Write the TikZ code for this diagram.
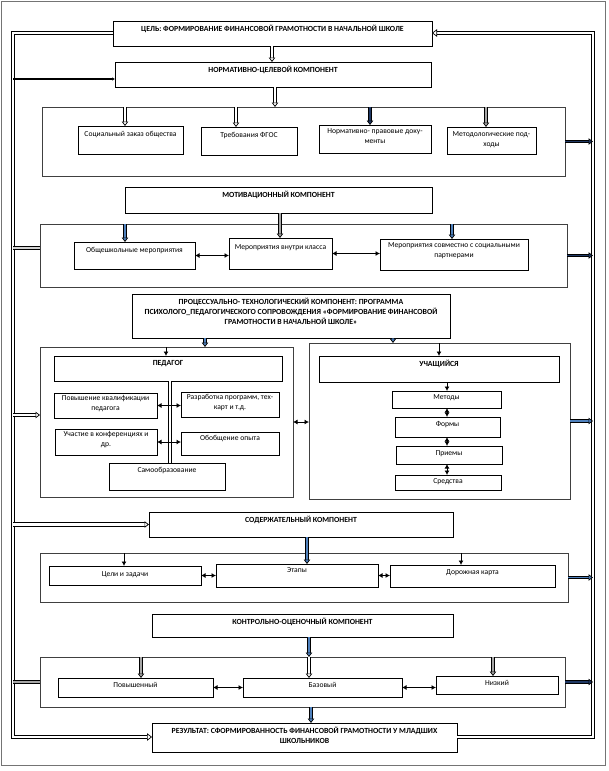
\documentclass[tikz,border=0pt]{standalone}
\usepackage{fontspec}
\setmainfont{Carlito}
\usetikzlibrary{arrows.meta}
\definecolor{bluef}{HTML}{4F81BD}
\definecolor{navy}{HTML}{1F3864}
\definecolor{grayf}{HTML}{A6A6A6}
\definecolor{contc}{HTML}{404040}
\tikzset{
  box/.style={draw=black, line width=0.8pt, inner sep=0pt, outer sep=0pt, anchor=north west},
  cont/.style={draw=contc, line width=0.9pt, inner sep=0pt, outer sep=0pt, anchor=north west},
  ttl/.style={font=\fontsize{7.8}{10}\selectfont\bfseries, align=center, anchor=north, inner sep=0pt},
  txt/.style={font=\fontsize{7.6}{10}\selectfont, align=center, anchor=north, inner sep=0pt},
  blk/.style={draw=black, line width=0.8pt, double=#1, double distance=1.6pt,
     -{Triangle[length=4.5pt,width=6.5pt,fill=#1,line width=0.7pt]}},
  blk/.default=white,
  dbl/.style={draw=black, line width=0.8pt, double=#1, double distance=1.6pt},
  dbl/.default=white,
  loopl/.style={draw=black, line width=0.8pt, double=white, double distance=2.4pt},
  looparr/.style={-{Triangle[length=5pt,width=7.5pt,fill=white,line width=0.7pt]}},
  sarr/.style={draw=black, line width=0.9pt, -{Latex[length=4.5pt,width=5pt]}},
  darr/.style={draw=black, line width=1pt, {Latex[length=4.5pt,width=5pt]}-{Latex[length=4.5pt,width=5pt]}},
}
\newcommand\mkbox[6][box]{\node[#1, minimum width={#5-#3}, minimum height={#6-#4}] (#2) at (#3,#4) {};}
\begin{document}
\begin{tikzpicture}[x=1pt,y=-1pt]
\useasboundingbox (0,0) rectangle (608,771);
\draw[grayf!70!black, line width=1pt] (1.5,1.5) rectangle (605.5,765);

% boxes
\mkbox{goal}{113}{21}{432}{46}
\node[ttl] (goalt) at ([yshift=-4pt]goal.north) {ЦЕЛЬ: ФОРМИРОВАНИЕ ФИНАНСОВОЙ ГРАМОТНОСТИ В НАЧАЛЬНОЙ ШКОЛЕ};
\mkbox{norm}{115}{62}{431}{87}
\node[ttl] (normt) at ([yshift=-4pt]norm.north) {НОРМАТИВНО-ЦЕЛЕВОЙ КОМПОНЕНТ};
\mkbox[cont]{contA}{42}{107}{565}{176}
\mkbox{A1}{78}{126}{183}{154}
\node[txt] (A1t) at ([yshift=-5pt]A1.north) {Социальный заказ общества};
\mkbox{A2}{201}{127}{297}{155}
\node[txt] (A2t) at ([yshift=-5pt]A2.north) {Требования ФГОС};
\mkbox{A3}{319}{125}{431}{153}
\node[txt] (A3t) at ([yshift=-3pt]A3.north) {Нормативно- правовые доку-\\менты};
\mkbox{A4}{447}{127}{536}{154}
\node[txt] (A4t) at ([yshift=-4pt]A4.north) {Методологические под-\\ходы};
\mkbox{motiv}{125}{187}{432}{213}
\node[ttl] (motivt) at ([yshift=-4pt]motiv.north) {МОТИВАЦИОННЫЙ КОМПОНЕНТ};
\mkbox[cont]{contB}{40}{224}{567}{287}
\mkbox{B1}{74}{242}{195}{269}
\node[txt] (B1t) at ([yshift=-5pt]B1.north) {Общешкольные мероприятия};
\mkbox{B2}{229}{238}{332}{269}
\node[txt] (B2t) at ([yshift=-6pt]B2.north) {Мероприятия внутри класса};
\mkbox{B3}{380}{239}{528}{270}
\node[txt] (B3t) at ([yshift=-3pt]B3.north) {Мероприятия совместно с социальными\\партнерами};
\mkbox{proc}{132}{294}{450}{338}
\node[ttl] (proct) at ([yshift=-4pt]proc.north) {ПРОЦЕССУАЛЬНО- ТЕХНОЛОГИЧЕСКИЙ КОМПОНЕНТ: ПРОГРАММА\\ПСИХОЛОГО\_ПЕДАГОГИЧЕСКОГО СОПРОВОЖДЕНИЯ «ФОРМИРОВАНИЕ ФИНАНСОВОЙ\\ГРАМОТНОСТИ В НАЧАЛЬНОЙ ШКОЛЕ»};
\mkbox[cont]{contC}{40}{347}{293}{497}
\mkbox[cont]{contD}{309}{343}{570}{499}
\mkbox{ped}{54}{356}{282}{381}
\node[ttl] (pedt) at ([yshift=-4pt]ped.north) {ПЕДАГОГ};
\mkbox{uch}{319}{356}{559}{382}
\node[ttl] (ucht) at ([yshift=-4pt]uch.north) {УЧАЩИЙСЯ};
\mkbox{C1}{54}{393}{157}{418}
\node[txt] (C1t) at ([yshift=-2pt]C1.north) {Повышение квалификации\\педагога};
\mkbox{C2}{181}{392}{279}{417}
\node[txt] (C2t) at ([yshift=-2pt]C2.north) {Разработка программ, тех-\\карт и т.д.};
\mkbox{C3}{55}{429}{157}{455}
\node[txt] (C3t) at ([yshift=-2pt]C3.north) {Участие в конференциях и\\др.};
\mkbox{C4}{181}{432}{279}{455}
\node[txt] (C4t) at ([yshift=-3pt]C4.north) {Обобщение опыта};
\mkbox{C5}{109}{463}{225}{490}
\node[txt] (C5t) at ([yshift=-4pt]C5.north) {Самообразование};
\mkbox{D1}{392}{391}{501}{408}
\node[txt] (D1t) at ([yshift=-3pt]D1.north) {Методы};
\mkbox{D2}{395}{417}{500}{437}
\node[txt] (D2t) at ([yshift=-4pt]D2.north) {Формы};
\mkbox{D3}{396}{446}{502}{464}
\node[txt] (D3t) at ([yshift=-4pt]D3.north) {Приемы};
\mkbox{D4}{395}{475}{501}{490}
\node[txt] (D4t) at ([yshift=-3pt]D4.north) {Средства};
\mkbox{sod}{149}{512}{453}{537}
\node[ttl] (sodt) at ([yshift=-4pt]sod.north) {СОДЕРЖАТЕЛЬНЫЙ КОМПОНЕНТ};
\mkbox[cont]{contE}{40}{553}{568}{602}
\mkbox{E1}{49}{566}{201}{585}
\node[txt] (E1t) at ([yshift=-5pt]E1.north) {Цели и задачи};
\mkbox{E2}{216}{564}{378}{587}
\node[txt] (E2t) at ([yshift=-3pt]E2.north) {Этапы};
\mkbox{E3}{390}{565}{555}{587}
\node[txt] (E3t) at ([yshift=-4pt]E3.north) {Дорожная карта};
\mkbox{kontr}{152}{614}{453}{637}
\node[ttl] (kontrt) at ([yshift=-4pt]kontr.north) {КОНТРОЛЬНО-ОЦЕНОЧНЫЙ КОМПОНЕНТ};
\mkbox[cont]{contF}{40}{657}{565}{707}
\mkbox{F1}{58}{678}{213}{697}
\node[txt] (F1t) at ([yshift=-4pt]F1.north) {Повышенный};
\mkbox{F2}{243}{678}{402}{697}
\node[txt] (F2t) at ([yshift=-4pt]F2.north) {Базовый};
\mkbox{F3}{436}{676}{558}{694}
\node[txt] (F3t) at ([yshift=-4pt]F3.north) {Низкий};
\mkbox{res}{152}{723}{457}{752}
\node[ttl] (rest) at ([yshift=-4pt]res.north) {РЕЗУЛЬТАТ: СФОРМИРОВАННОСТЬ ФИНАНСОВОЙ ГРАМОТНОСТИ У МЛАДШИХ\\ШКОЛЬНИКОВ};

% loops
\coordinate (L1) at (13,33);
\coordinate (L2) at (13,737);
\coordinate (R1) at (593,33);
\coordinate (R2) at (593,737);
\draw[loopl, looparr] (goal.west |- L1) -- (L1) -- (L2) -- (res.west |- L2);
\draw[loopl, looparr] (res.east |- R2) -- (R2) -- (R1) -- (goal.east |- R1);

% left branches
\draw[draw=black, line width=1.3pt, -{Latex[length=3pt,width=3.5pt]}] (L1 |- 0,79) -- (norm.west |- 0,79);
\draw[dbl=grayf!50] (L1 |- 0,248) -- (contB.west |- 0,248);
\draw[blk] (L1 |- 0,415) -- (contC.west |- 0,415);
\draw[blk, double distance=2.6pt] (L1 |- sod.west) -- (sod.west);
\draw[dbl=grayf] (L1 |- contF.west) -- (contF.west);

% right branches
\draw[blk=navy] (contA.east) -- (R1 |- contA.east);
\draw[blk=navy] (contB.east) -- (R1 |- contB.east);
\draw[blk=bluef] (contD.east) -- (R1 |- contD.east);
\draw[blk=bluef] (contE.east) -- (R1 |- contE.east);
\draw[blk=navy] (contF.east) -- (R1 |- contF.east);

% vertical flow
\draw[blk] (272,0 |- goal.south) -- (272,0 |- norm.north);
\draw[blk] (275,0 |- norm.south) -- (275,0 |- contA.north);
\draw[blk] (125,0 |- contA.north) -- (125,0 |- A1.north);
\draw[blk] (236,0 |- contA.north) -- (236,0 |- A2.north);
\draw[blk=navy] (370,0 |- contA.north) -- (370,0 |- A3.north);
\draw[blk=grayf] (486,0 |- contA.north) -- (486,0 |- A4.north);
\draw[blk=grayf] (280,0 |- motiv.south) -- (280,0 |- B2.north);
\draw[blk=bluef] (125,0 |- contB.north) -- (125,0 |- B1.north);
\draw[blk=bluef] (452,0 |- contB.north) -- (452,0 |- B3.north);
\draw[darr] (B1.east) -- (B1.east -| B2.west);
\draw[darr] (B2.east) -- (B2.east -| B3.west);
\draw[blk=bluef] (205,0 |- proc.south) -- (205,0 |- contC.north);
\draw[blk=bluef] (393,0 |- proc.south) -- (393,0 |- contD.north);
\draw[sarr] (166,0 |- contC.north) -- (166,0 |- ped.north);
\draw[sarr] (439,0 |- contD.north) -- (439,0 |- uch.north);
\draw[dbl] (170,0 |- ped.south) -- (170,0 |- C5.north);
\draw[darr] (C1.east) -- (C1.east -| C2.west);
\draw[darr] (C3.east) -- (C3.east -| C4.west);
\draw[sarr] (447,0 |- uch.south) -- (447,0 |- D1.north);
\draw[darr] (447,0 |- D1.south) -- (447,0 |- D2.north);
\draw[darr] (447,0 |- D2.south) -- (447,0 |- D3.north);
\draw[darr] (447,0 |- D3.south) -- (447,0 |- D4.north);
\draw[darr] (contC.east) -- (contC.east -| contD.west);
\draw[blk=bluef] (307,0 |- sod.south) -- (307,0 |- E2.north);
\draw[sarr] (124,0 |- contE.north) -- (124,0 |- E1.north);
\draw[sarr] (461,0 |- contE.north) -- (461,0 |- E3.north);
\draw[darr] (E1.east) -- (E1.east -| E2.west);
\draw[darr] (E2.east) -- (E2.east -| E3.west);
\draw[blk=bluef] (309,0 |- kontr.south) -- (309,0 |- contF.north);
\draw[blk=grayf] (141,0 |- contF.north) -- (141,0 |- F1.north);
\draw[blk] (309,0 |- contF.north) -- (309,0 |- F2.north);
\draw[blk=grayf] (493,0 |- contF.north) -- (493,0 |- F3.north);
\draw[darr] (F1.east) -- (F1.east -| F2.west);
\draw[darr] (F2.east) -- (F2.east -| F3.west);
\draw[blk=bluef] (311,0 |- contF.south) -- (311,0 |- res.north);
\end{tikzpicture}
\end{document}
